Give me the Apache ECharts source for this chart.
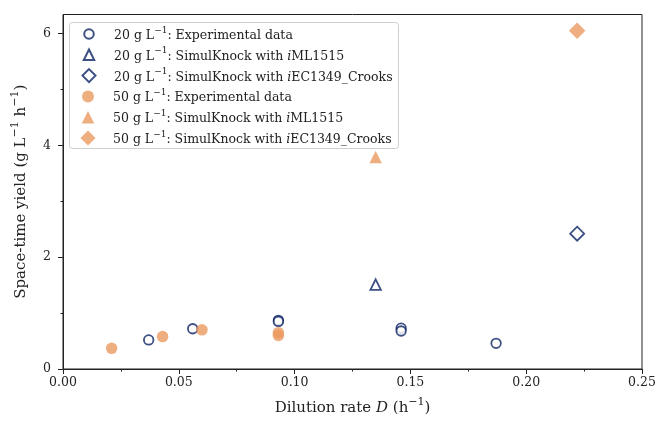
<!DOCTYPE html>
<html>
<head>
<meta charset="utf-8">
<script src="https://cdn.jsdelivr.net/npm/echarts@6/dist/echarts.min.js"></script>
<style>
  html, body { margin: 0; padding: 0; background: #fff; }
  #chart { width: 659px; height: 421px; }
</style>
</head>
<body>
<div id="chart"></div>
<script>
// 数据：稀释率 D 与时空产率
var exp20 = [[0.037, 0.52], [0.056, 0.72], [0.093, 0.87], [0.093, 0.85], [0.146, 0.73], [0.146, 0.68], [0.187, 0.46]];
var iml20 = [[0.135, 1.51]];
var iec20 = [[0.222, 2.42]];
var exp50 = [[0.021, 0.37], [0.043, 0.58], [0.060, 0.70], [0.093, 0.65], [0.093, 0.60]];
var iml50 = [[0.135, 3.79]];
var iec50 = [[0.222, 6.05]];

var legendNames = [
  '20 g L: Experimental data',
  '20 g L: SimulKnock with iML1515',
  '20 g L: SimulKnock with iEC1349_Crooks',
  '50 g L: Experimental data',
  '50 g L: SimulKnock with iML1515',
  '50 g L: SimulKnock with iEC1349_Crooks'
];
var yTicks = [0, 2, 4, 6];
var yMinorTicks = [1, 3, 5];

var navy = '#0c2465';
var orange = '#eb9a60';
var font = 'DejaVu Serif';

// 图例图标大小（每一行单独）
var legendIconSizes = [9.5, 10.5, 13, 12, 12.5, 15];

var chart = echarts.init(document.getElementById('chart'));

function openStyle() {
  return { color: '#fff', borderColor: navy, borderWidth: 1.8 };
}
function fillStyle() {
  return { color: orange, borderWidth: 0 };
}

// 上标用 rich text
function richSet(size) {
  return {
    n: { fontFamily: font, fontSize: size, lineHeight: size + 4, verticalAlign: 'bottom' },
    it: { fontFamily: font, fontSize: size, fontStyle: 'italic', lineHeight: size + 4, verticalAlign: 'bottom' },
    sup: { fontFamily: font, fontSize: Math.round(size * 0.7), lineHeight: size + 4, verticalAlign: 'top' }
  };
}

function legendFormatter(name) {
  var s = name.replace('g L:', 'g L{sup|−1}{n|:');
  s = s.replace('with i', 'with }{it|i}{n|');
  return '{n|' + s.replace(/^(\d+ g L)/, '$1}') + '}';
}

// 每个图例项一个 legend，方便单独设置图标大小
var legends = legendNames.map(function (name, i) {
  var sz = legendIconSizes[i];
  var rowY = 34 + i * 20.8;
  return {
    orient: 'vertical',
    left: 88 - sz / 2,
    top: rowY - 16.5 / 2,
    padding: 0,
    z: 10,
    itemWidth: sz, itemHeight: sz, itemGap: 0,
    data: [name],
    selectedMode: false,
    formatter: legendFormatter,
    textStyle: {
      fontFamily: font, fontSize: 12.5, color: '#222',
      padding: [0, 0, 0, 113 - (88 + sz / 2 + 5)],
      rich: richSet(12.5)
    }
  };
});

chart.setOption({
  animation: false,
  textStyle: { fontFamily: font, color: '#222' },
  grid: {
    left: 63, right: 17, top: 14.5, bottom: 50,
    show: true, borderColor: '#222', borderWidth: 1, backgroundColor: 'transparent'
  },
  graphic: [{
    type: 'rect',
    left: 69, top: 22, z: 5,
    shape: { width: 329, height: 126, r: 3 },
    style: { fill: 'rgba(255,255,255,0.8)', stroke: '#cfcfcf', lineWidth: 1 }
  }],
  legend: legends,
  xAxis: {
    type: 'value',
    min: 0, max: 0.25, interval: 0.05,
    name: '{n|Dilution rate }{it|D}{n| (h}{sup|−1}{n|)}',
    nameLocation: 'middle', nameGap: 28,
    nameTextStyle: { fontFamily: font, fontSize: 15, color: '#222', rich: richSet(15) },
    axisLine: { lineStyle: { color: '#222', width: 1 } },
    axisTick: { length: 5, lineStyle: { color: '#222' } },
    minorTick: { show: true, splitNumber: 2, length: 2.5, lineStyle: { color: '#222' } },
    axisLabel: {
      fontFamily: font, fontSize: 12.5, color: '#222', margin: 7,
      formatter: function (v) { return v.toFixed(2); }
    },
    splitLine: { show: false }
  },
  yAxis: [
    {
      type: 'value',
      min: 0, max: 6.34,
      name: '{n|Space-time yield (g L}{sup|−1}{n| h}{sup|−1}{n|)}',
      nameLocation: 'middle', nameGap: 34,
      nameTextStyle: { fontFamily: font, fontSize: 15, color: '#222', rich: richSet(15) },
      axisLine: { show: true, lineStyle: { color: '#222', width: 1 } },
      axisTick: { show: true, length: 5, customValues: yTicks, lineStyle: { color: '#222' } },
      axisLabel: { fontFamily: font, fontSize: 12.5, color: '#222', margin: 12, customValues: yTicks },
      splitLine: { show: false }
    },
    {
      type: 'value',
      min: 0, max: 6.34,
      position: 'left',
      axisLine: { show: false },
      axisTick: { show: true, length: 2.5, customValues: yMinorTicks, lineStyle: { color: '#222' } },
      axisLabel: { show: false },
      splitLine: { show: false }
    }
  ],
  series: [
    { name: legendNames[0], type: 'scatter', data: exp20, symbol: 'circle', symbolSize: 9.5, itemStyle: openStyle(), z: 3 },
    { name: legendNames[1], type: 'scatter', data: iml20, symbol: 'triangle', symbolSize: 10.5, itemStyle: openStyle(), z: 3 },
    { name: legendNames[2], type: 'scatter', data: iec20, symbol: 'diamond', symbolSize: 14, itemStyle: openStyle(), z: 3 },
    { name: legendNames[3], type: 'scatter', data: exp50, symbol: 'circle', symbolSize: 11.5, itemStyle: fillStyle(), z: 3 },
    { name: legendNames[4], type: 'scatter', data: iml50, symbol: 'triangle', symbolSize: 12.5, itemStyle: fillStyle(), z: 3 },
    { name: legendNames[5], type: 'scatter', data: iec50, symbol: 'diamond', symbolSize: 16.5, itemStyle: fillStyle(), z: 3 }
  ]
});
</script>
</body>
</html>
